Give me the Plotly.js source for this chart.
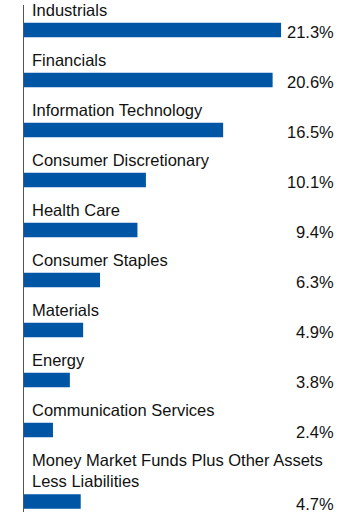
<!DOCTYPE html>
<html>
<head>
<meta charset="utf-8">
<script src="https://cdn.plot.ly/plotly-3.0.1.min.js"></script>
<style>
  html, body { margin: 0; padding: 0; background: #fff; }
  #chart { width: 360px; height: 517px; }
</style>
</head>
<body>
<div id="chart"></div>
<script>
const categories = [
  "Industrials",
  "Financials",
  "Information Technology",
  "Consumer Discretionary",
  "Health Care",
  "Consumer Staples",
  "Materials",
  "Energy",
  "Communication Services",
  "Money Market Funds Plus Other Assets<br>Less Liabilities"
];
const values = [21.3, 20.6, 16.5, 10.1, 9.4, 6.3, 4.9, 3.8, 2.4, 4.7];
const valueLabels = ["21.3%", "20.6%", "16.5%", "10.1%", "9.4%", "6.3%", "4.9%", "3.8%", "2.4%", "4.7%"];

// Row positions: each row is one unit; labels that wrap to extra lines push their row down.
const extraLineGap = 0.43;
const positions = [];
categories.forEach((c, i) => {
  const lines = c.split("<br>").length;
  const prev = i === 0 ? -1 : positions[i - 1];
  positions.push(prev + 1 + extraLineGap * (lines - 1));
});

const barWidth = 0.29;
const fontFam = "Arial, 'Liberation Sans', sans-serif";

const annotations = [];
categories.forEach((c, i) => {
  annotations.push({
    xref: "x", yref: "y", x: 0, y: positions[i] - barWidth / 2,
    xanchor: "left", yanchor: "bottom", xshift: 6, yshift: 2,
    text: c, showarrow: false, align: "left",
    font: { family: fontFam, size: 16.5, color: "#111" }
  });
  annotations.push({
    xref: "paper", yref: "y", x: 1, y: positions[i],
    xanchor: "right", yanchor: "middle", xshift: -24, yshift: -2,
    text: valueLabels[i], showarrow: false,
    font: { family: fontFam, size: 16.5, color: "#111" }
  });
});

const trace = {
  type: "bar",
  orientation: "h",
  x: values,
  y: positions,
  width: barWidth,
  marker: { color: "#0055a5" },
  hoverinfo: "skip"
};

const last = positions[positions.length - 1];
const layout = {
  width: 360, height: 517,
  margin: { l: 24, r: 0, t: 5, b: 5 },
  paper_bgcolor: "#fff", plot_bgcolor: "#fff",
  showlegend: false,
  xaxis: { range: [0, 27.84], visible: false, fixedrange: true },
  yaxis: {
    range: [last + 0.21, -0.5],
    showticklabels: false, ticks: "", showgrid: false, zeroline: false,
    showline: true, linecolor: "#555", linewidth: 1.5
  },
  annotations: annotations
};

Plotly.newPlot("chart", [trace], layout, { displayModeBar: false, staticPlot: true });
</script>
</body>
</html>
